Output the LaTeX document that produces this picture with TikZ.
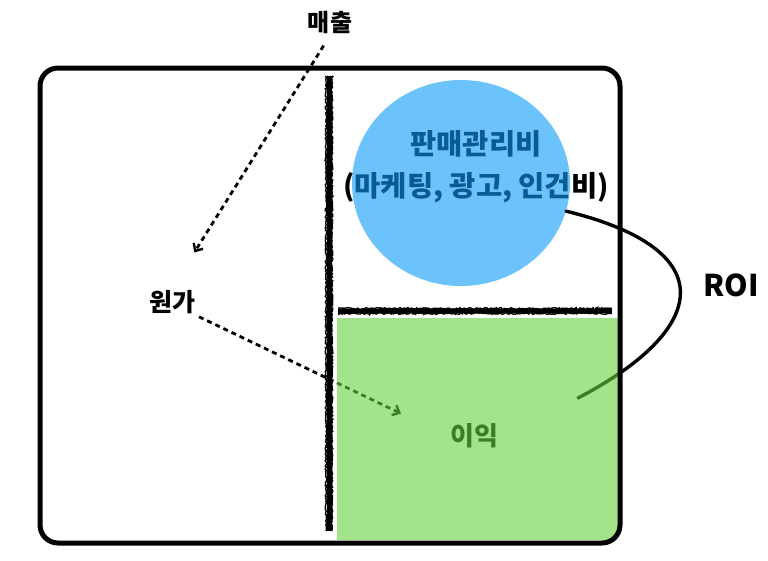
\documentclass[tikz,border=0pt]{standalone}
\usepackage{fontspec}
\newfontfamily\kr{Noto Sans CJK KR}
\usetikzlibrary{shapes}
\usetikzlibrary{positioning}
\usetikzlibrary{arrows.meta}
\usetikzlibrary{decorations.pathmorphing}
\definecolor{sgablue}{RGB}{10,155,250}
\definecolor{profitgreen}{RGB}{102,210,60}
\tikzset{
    mylabel/.style = {align=center,font=\kr\bfseries,text=black,inner sep=2pt},
    edgedash/.style = {-{Straight Barb[length=6pt,width=11pt,line width=2.4pt]},line width=2.8pt,black,dash pattern=on 5pt off 4pt},
    edgeroi/.style = {-,line width=3.4pt,black,line cap=round},
    roughline/.style = {-,line width=5pt,black},
    roughedge/.style = {-,line width=1.4pt,black,decorate,decoration={random steps,segment length=1.2pt,amplitude=0.8pt}},
    sganode/.style = {ellipse,fill=sgablue,fill opacity=0.6,minimum width=218pt,minimum height=206pt,inner sep=0},
    profitbox/.style = {fill=profitgreen,fill opacity=0.6},
    outerbox/.style = {line width=5pt,rounded corners=18pt,black}
}

\begin{document}
\begin{tikzpicture}[x=1pt,y=-1pt]
\useasboundingbox (0,0) rectangle (768,560);

\node[mylabel,font=\kr\bfseries\fontsize{24}{27}\selectfont] at (330,22) (sales) {매출};
\node[mylabel,font=\kr\bfseries\fontsize{25}{28}\selectfont] at (172,302) (cost) {원가};
\node[mylabel,font=\kr\bfseries\fontsize{28.5}{42}\selectfont] at (476,167) (sga) {판매관리비\\(마케팅, 광고, 인건비)};
\node[mylabel,font=\kr\bfseries\fontsize{26}{29}\selectfont] at (474,436) (profit) {이익};
\node[mylabel,font=\kr\bfseries\fontsize{30}{33}\selectfont] at (731,285) (roi) {ROI};

\draw[edgedash,shorten <=12pt,shorten >=42pt] (sales.south) -- (cost.north);
\draw[edgedash,shorten <=2pt,shorten >=52pt] (cost.south east) -- (profit.west);

\node[sganode] at (461,183) (sgacircle) {};
\coordinate (roiend) at (578,398);
\draw[edgeroi] (sgacircle.-15) .. controls (725,250) and (708,330) .. (roiend);

% green part, kept inside the frame
\begin{scope}
\clip[rounded corners=18pt] (40,68) rectangle (620,543);
\fill[profitbox] (337,318) rectangle (620,540);
\end{scope}

% scratchy dividers
\draw[roughline] (329,76) -- (329,531);
\foreach \d in {-3,-1,1,3}
    \draw[roughedge] (329+\d,76) -- (329+\d,531);
\draw[roughline,line width=4pt] (338,311) -- (612,311);
\foreach \d in {-2.5,0,2.5}
    \draw[roughedge] (338,311+\d) -- (612,311+\d);
\draw[outerbox] (40,68) rectangle (620,543);

\end{tikzpicture}
\end{document}
